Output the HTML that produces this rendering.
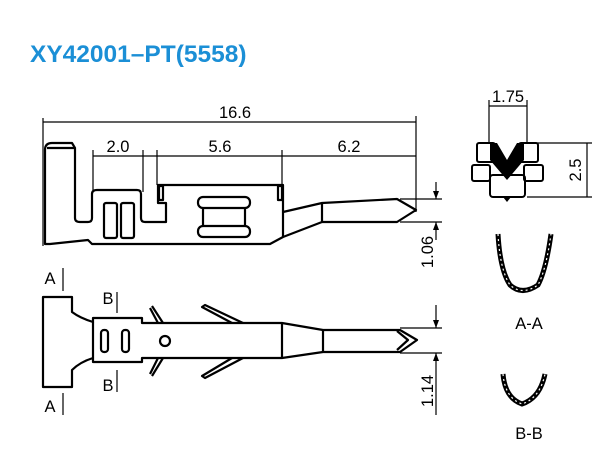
<!DOCTYPE html>
<html><head><meta charset="utf-8"><style>
html,body{margin:0;padding:0;background:#fff;width:610px;height:464px;overflow:hidden}
svg{display:block}
text{font-family:"Liberation Sans",Arial,sans-serif;fill:#000}
</style></head><body>
<svg width="610" height="464" viewBox="0 0 610 464" xmlns="http://www.w3.org/2000/svg">
<text x="30" y="62" font-size="24.5" font-weight="bold" style="fill:#1b8fd6">XY42001–PT(5558)</text>

<g stroke="#000" fill="none" stroke-width="1.2">
<line x1="43" y1="122" x2="416" y2="122"/>
<line x1="43" y1="118" x2="43" y2="246"/>
<line x1="416" y1="116" x2="416" y2="212"/>
<line x1="93" y1="156" x2="416" y2="156"/>
<line x1="93" y1="150" x2="93" y2="190"/>
<line x1="143" y1="150" x2="143" y2="192"/>
<line x1="157" y1="150" x2="157" y2="185"/>
<line x1="282" y1="150" x2="282" y2="185"/>
<line x1="400" y1="199" x2="442" y2="199"/>
<line x1="400" y1="222" x2="442" y2="222"/>
<line x1="436" y1="182" x2="436" y2="199"/>
<line x1="436" y1="222" x2="436" y2="240"/>
</g>
<g fill="#000">
<polygon points="436,199 433,191 439,191"/>
<polygon points="436,222 433,230 439,230"/>
</g>
<text x="235" y="118" font-size="16.5" text-anchor="middle">16.6</text>
<text x="118" y="152" font-size="16.5" text-anchor="middle">2.0</text>
<text x="220" y="152" font-size="16.5" text-anchor="middle">5.6</text>
<text x="349" y="152" font-size="16.5" text-anchor="middle">6.2</text>
<text transform="translate(433,252) rotate(-90)" font-size="16.5" text-anchor="middle">1.06</text>

<g stroke="#000" fill="none" stroke-width="2.2" stroke-linejoin="round">
<path d="M45,244 L45,150 Q45,143 52,143 L72,143 L75,148 L75,218 Q75,222 80,222 L88,222 Q92,222 92,218 L92,194 Q92,190 97,190 L137,190 Q141,190 141,194 L141,218 Q141,222 145,222 L166,222 L166,203 L158,203 L158,185 L283,185 L283,212 L322,203 L397,199 L416,210 L397,222 L322,222 L283,237 L270,244 L92,244 L88,240 L50,244 Z"/>
<line x1="47" y1="148" x2="74" y2="148"/>
<line x1="322" y1="203" x2="322" y2="222"/>
<line x1="283" y1="212" x2="283" y2="237"/>
<rect x="104" y="203" width="13" height="35" rx="2"/>
<rect x="121" y="203" width="13" height="35" rx="2"/>
<rect x="198" y="197" width="52" height="11" rx="5"/>
<rect x="198" y="226" width="52" height="11" rx="5"/>
<line x1="203" y1="208" x2="203" y2="226"/>
<line x1="245" y1="208" x2="245" y2="226"/>
<rect x="159" y="186" width="4" height="14"/>
<rect x="278" y="186" width="4" height="14"/>
</g>

<g stroke="#000" fill="none" stroke-width="1.2">
<line x1="63" y1="268" x2="63" y2="291"/>
<line x1="63" y1="393" x2="63" y2="415"/>
<line x1="117" y1="292" x2="117" y2="313"/>
<line x1="117" y1="370" x2="117" y2="392"/>
<line x1="400" y1="328" x2="442" y2="328"/>
<line x1="400" y1="353" x2="442" y2="353"/>
<line x1="436" y1="305" x2="436" y2="328"/>
<line x1="436" y1="353" x2="436" y2="415"/>
</g>
<g fill="#000">
<polygon points="436,328 433,320 439,320"/>
<polygon points="436,353 433,361 439,361"/>
</g>
<text x="50" y="284" font-size="16.5" text-anchor="middle">A</text>
<text x="50" y="412" font-size="16.5" text-anchor="middle">A</text>
<text x="108" y="304" font-size="16.5" text-anchor="middle">B</text>
<text x="108" y="391" font-size="16.5" text-anchor="middle">B</text>
<text transform="translate(433,391) rotate(-90)" font-size="16.5" text-anchor="middle">1.14</text>

<g stroke="#000" fill="none" stroke-width="2.2" stroke-linejoin="round">
<path d="M43,297 L72,297 L72,312 Q80,318 93,322 L93,318 L142,318 L142,323 L282,323 L323,330 L400,330 L417,340 L400,352 L323,352 L282,358 L142,358 L142,362 L93,362 L93,358 Q80,362 72,370 L72,387 L43,387 Z"/>
<path d="M93,322 L93,358"/>
<path d="M397,331 L408,340 L397,350"/>
<line x1="323" y1="330" x2="323" y2="352"/>
<line x1="282" y1="323" x2="282" y2="358"/>
<rect x="101" y="330" width="7" height="22" rx="3"/>
<rect x="122" y="330" width="7" height="22" rx="3"/>
<circle cx="165" cy="341" r="5"/>
<path d="M163,323 L152,306 M158,323 L150,308"/>
<path d="M163,358 L152,376 M158,358 L150,374"/>
<path d="M243,323 L205,305 L202,307 L232,323"/>
<path d="M243,358 L205,378 L202,376 L232,358"/>
</g>

<g stroke="#000" fill="none" stroke-width="1.2">
<line x1="489" y1="106" x2="527" y2="106"/>
<line x1="489" y1="100" x2="489" y2="143"/>
<line x1="527" y1="100" x2="527" y2="143"/>
<line x1="527" y1="143" x2="592" y2="143"/>
<line x1="527" y1="197" x2="592" y2="197"/>
<line x1="587" y1="143" x2="587" y2="197"/>
</g>
<text x="508" y="102" font-size="16.5" text-anchor="middle">1.75</text>
<text transform="translate(581,170) rotate(-90)" font-size="16.5" text-anchor="middle">2.5</text>
<g stroke="#000" fill="none" stroke-width="2" stroke-linejoin="round">
<rect x="477" y="143" width="18" height="19" rx="2"/>
<rect x="519" y="143" width="19" height="19" rx="2"/>
<rect x="472" y="165" width="18" height="16" rx="2"/>
<rect x="524" y="165" width="19" height="16" rx="2"/>
<rect x="490" y="175" width="35" height="22" rx="3"/>
</g>
<path d="M490,143 L497,143 L507,160 L517,143 L524,143 L524,160 L507,180 L490,160 Z" fill="#000"/>
<path d="M503,197 L507,202 L511,197 Z" fill="#000"/>
<g stroke="#000" fill="none" stroke-width="5">
<path d="M498,234 Q500,270 510,285 Q522,296 538,285 Q546,270 551,234"/>
<path d="M503,374 Q505,398 522,404 Q540,398 545,374"/>
</g>
<g stroke="#fff" fill="none" stroke-width="1.2" stroke-dasharray="2 3">
<path d="M498,234 Q500,270 510,285 Q522,296 538,285 Q546,270 551,234"/>
<path d="M503,374 Q505,398 522,404 Q540,398 545,374"/>
</g>
<text x="529" y="329" font-size="16.5" text-anchor="middle">A-A</text>
<text x="529" y="439" font-size="16.5" text-anchor="middle">B-B</text>
</svg>
</body></html>
